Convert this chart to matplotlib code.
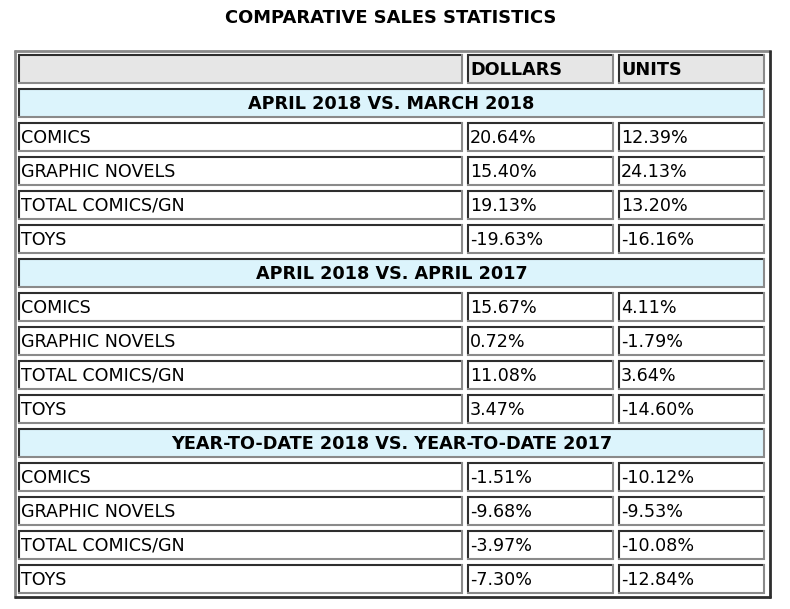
import matplotlib
matplotlib.use("Agg")
import matplotlib.pyplot as plt
from matplotlib.patches import Rectangle

title = "COMPARATIVE SALES STATISTICS"
columns = ["", "DOLLARS", "UNITS"]
sections = ["APRIL 2018 VS. MARCH 2018",
            "APRIL 2018 VS. APRIL 2017",
            "YEAR-TO-DATE 2018 VS. YEAR-TO-DATE 2017"]
categories = ["COMICS", "GRAPHIC NOVELS", "TOTAL COMICS/GN", "TOYS"]
dollars = [[20.64, 15.40, 19.13, -19.63],
           [15.67, 0.72, 11.08, 3.47],
           [-1.51, -9.68, -3.97, -7.30]]
units = [[12.39, 24.13, 13.20, -16.16],
         [4.11, -1.79, 3.64, -14.60],
         [-10.12, -9.53, -10.08, -12.84]]

W, H = 790, 609
fig = plt.figure(figsize=(W / 100, H / 100), dpi=100)
ax = fig.add_axes([0, 0, 1, 1])
ax.set_xlim(0, W)
ax.set_ylim(H, 0)
ax.axis("off")

FONT = "DejaVu Sans"
FS = 12.6
FSB = 12.7
FST = 12.9

# layout
tx0, ty0, tx1, ty1 = 14, 50, 771, 598
col_x = [18, 467, 618]
col_w = [445, 147, 147]
row_y0 = 54
row_h = 30
row_pitch = 34
full_w = col_x[2] + col_w[2] - col_x[0]

HEAD_BG = "#e6e6e6"
SEC_BG = "#dcf4fc"
DARK = "#2e2e2e"
LIGHT = "#8a8a8a"


def cell(x, y, w, h, bg):
    ax.add_patch(Rectangle((x, y), w, h, facecolor=bg, edgecolor="none", zorder=1))
    lw = 1.5
    # inset: top/left dark, bottom/right light
    ax.plot([x, x + w], [y + 0.75, y + 0.75], color=DARK, lw=lw, solid_capstyle="butt", zorder=2)
    ax.plot([x + 0.75, x + 0.75], [y, y + h], color=DARK, lw=lw, solid_capstyle="butt", zorder=2)
    ax.plot([x, x + w], [y + h - 0.75, y + h - 0.75], color=LIGHT, lw=lw, solid_capstyle="butt", zorder=2)
    ax.plot([x + w - 0.75, x + w - 0.75], [y, y + h], color=LIGHT, lw=lw, solid_capstyle="butt", zorder=2)


# outer table border (outset)
ax.add_patch(Rectangle((tx0, ty0), tx1 - tx0, ty1 - ty0, facecolor="white", edgecolor="none", zorder=0))
ax.plot([tx0, tx1], [ty0 + 1, ty0 + 1], color=LIGHT, lw=2, solid_capstyle="butt")
ax.plot([tx0 + 1, tx0 + 1], [ty0, ty1], color=LIGHT, lw=2, solid_capstyle="butt")
ax.plot([tx0, tx1], [ty1 - 1, ty1 - 1], color=DARK, lw=2, solid_capstyle="butt")
ax.plot([tx1 - 1, tx1 - 1], [ty0, ty1], color=DARK, lw=2, solid_capstyle="butt")

ax.text(W / 2 - 4, 18, title, ha="center", va="center", fontsize=FST, fontweight="bold",
        family=FONT, color="black")

# header row
r = 0
y = row_y0
for c in range(3):
    cell(col_x[c], y, col_w[c], row_h, HEAD_BG)
    if columns[c]:
        ax.text(col_x[c] + 3, y + row_h / 2 + 1, columns[c], ha="left", va="center",
                fontsize=FSB, fontweight="bold", family=FONT, zorder=3)
r += 1

for s, sec in enumerate(sections):
    y = row_y0 + r * row_pitch
    cell(col_x[0], y, full_w, row_h, SEC_BG)
    ax.text(col_x[0] + full_w / 2, y + row_h / 2 + 1, sec, ha="center", va="center",
            fontsize=FSB, fontweight="bold", family=FONT, zorder=3)
    r += 1
    for i, cat in enumerate(categories):
        y = row_y0 + r * row_pitch
        vals = [cat, f"{dollars[s][i]:.2f}%", f"{units[s][i]:.2f}%"]
        for c in range(3):
            cell(col_x[c], y, col_w[c], row_h, "white")
            ax.text(col_x[c] + 3, y + row_h / 2 + 1, vals[c], ha="left", va="center",
                    fontsize=FS, family=FONT, zorder=3)
        r += 1

fig.savefig("out.png", dpi=100)
